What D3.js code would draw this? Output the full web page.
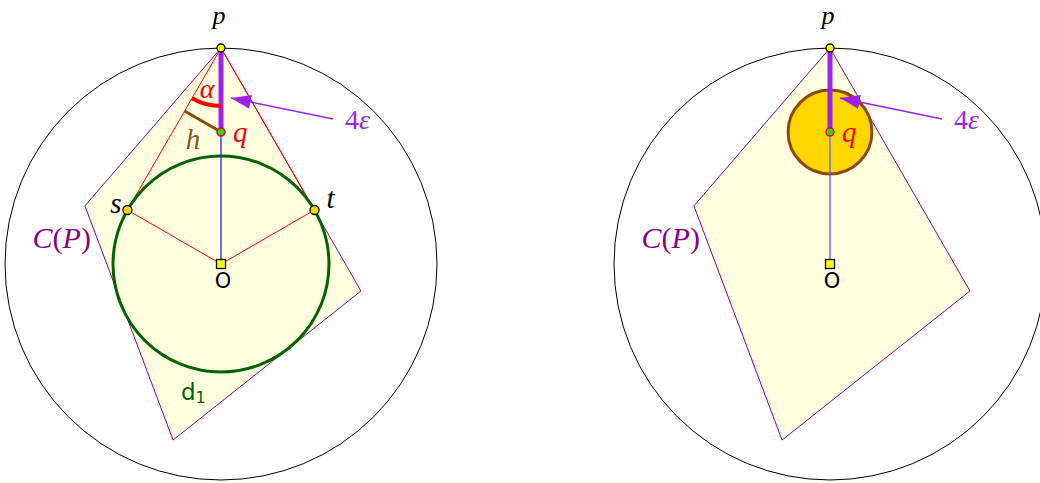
<!DOCTYPE html>
<html>
<head>
<meta charset="utf-8" />
<title>Hull and disks</title>
<style>
  body { margin: 0; background: #fff; }
  .math { font-family: "Liberation Serif", "DejaVu Serif", serif; font-style: italic; }
  .sans { font-family: "DejaVu Sans", sans-serif; }
</style>
</head>
<body>
<script src="https://d3js.org/d3.v7.min.js"></script>
<script>
// unit: radius of the big circle = 1, origin at o, y up
let panelCenters = [221, 830]
let hullX = [0, 0.648, -0.222, -0.630]
let hullY = [1, -0.125, -0.815, 0.269]
let pPoint = [0, 1]
let qPoint = [0, 0.611]
let d1Radius = 0.5
let qDiskRadius = 0.194
let arrowTip = [0.046, 0.769]
let arrowTail = [0.519, 0.671]

let W = 1040, H = 483, R = 216, cy = 264

let svg = d3.select('body').append('svg')
    .attr('width', W).attr('height', H)

let defs = svg.append('defs')
defs.append('marker')
    .attr('id', 'head')
    .attr('viewBox', '0 0 20 14')
    .attr('refX', 20).attr('refY', 7)
    .attr('markerWidth', 20).attr('markerHeight', 14)
    .attr('markerUnits', 'userSpaceOnUse')
    .attr('orient', 'auto')
    .append('path')
    .attr('d', 'M0,0 L20,7 L0,14 Z')
    .attr('fill', '#a020f0')

function drawPanel(cx, left) {
    let x = d3.scaleLinear().domain([-1, 1]).range([cx - R, cx + R])
    let y = d3.scaleLinear().domain([-1, 1]).range([cy + R, cy - R])
    let g = svg.append('g')
    let px = x(pPoint[0]), py = y(pPoint[1])
    let qx = x(qPoint[0]), qy = y(qPoint[1])
    let ox = x(0), oy = y(0)

    // big circle
    g.append('circle')
        .attr('cx', ox).attr('cy', oy).attr('r', x(1) - x(0))
        .attr('fill', 'none').attr('stroke', '#000').attr('stroke-width', 1)

    // convex hull
    let hull = hullX.map((v, i) => [x(v), y(hullY[i])])
    g.append('path')
        .attr('d', d3.line()(hull) + 'Z')
        .attr('fill', '#ffffe0').attr('stroke', '#8b008b').attr('stroke-width', 1)

    let tangents = []
    if (left) {
        // tangent points from p to d1
        let d = pPoint[1]
        let a = Math.acos(d1Radius / d)
        tangents = [-1, 1].map(s => [x(s * d1Radius * Math.sin(a)), y(d1Radius * Math.cos(a))])
        tangents.forEach(t => {
            g.append('line').attr('x1', px).attr('y1', py).attr('x2', t[0]).attr('y2', t[1])
                .attr('stroke', 'red').attr('stroke-width', 1)
            g.append('line').attr('x1', ox).attr('y1', oy).attr('x2', t[0]).attr('y2', t[1])
                .attr('stroke', 'red').attr('stroke-width', 1)
        })
        g.append('circle')
            .attr('cx', ox).attr('cy', oy).attr('r', x(d1Radius) - x(0))
            .attr('fill', 'none').attr('stroke', '#006400').attr('stroke-width', 3)
    } else {
        g.append('circle')
            .attr('cx', qx).attr('cy', qy).attr('r', x(qDiskRadius) - x(0))
            .attr('fill', '#ffd700').attr('stroke', '#8b4a0b').attr('stroke-width', 3)
    }

    // q to o
    g.append('line').attr('x1', qx).attr('y1', qy).attr('x2', ox).attr('y2', oy)
        .attr('stroke', left ? '#2222ff' : '#5a5aff').attr('stroke-width', 1.3)
    // p to q (4 eps)
    g.append('line').attr('x1', px).attr('y1', py).attr('x2', qx).attr('y2', qy)
        .attr('stroke', '#a020f0').attr('stroke-width', 5)

    if (left) {
        let ang = Math.asin(d1Radius / pPoint[1])
        let ar = 58
        g.append('path')
            .attr('transform', `translate(${px},${py})`)
            .attr('d', d3.arc().innerRadius(ar - 2).outerRadius(ar + 2)
                .startAngle(Math.PI).endAngle(Math.PI + ang)())
            .attr('fill', 'red')
        // h: perpendicular from q to p-s
        let s = tangents[0]
        let ux = s[0] - px, uy = s[1] - py
        let len = Math.hypot(ux, uy)
        ux /= len; uy /= len
        let k = (qx - px) * ux + (qy - py) * uy
        g.append('line').attr('x1', qx).attr('y1', qy)
            .attr('x2', px + k * ux).attr('y2', py + k * uy)
            .attr('stroke', '#8b4a0b').attr('stroke-width', 3)
    }

    // arrow
    g.append('line')
        .attr('x1', x(arrowTail[0])).attr('y1', y(arrowTail[1]))
        .attr('x2', x(arrowTip[0])).attr('y2', y(arrowTip[1]))
        .attr('stroke', '#a020f0').attr('stroke-width', 1.5)
        .attr('marker-end', 'url(#head)')

    // points
    g.append('circle').attr('cx', px).attr('cy', py).attr('r', 4)
        .attr('fill', '#ffff00').attr('stroke', '#000').attr('stroke-width', 1.3)
    tangents.forEach(t => {
        g.append('circle').attr('cx', t[0]).attr('cy', t[1]).attr('r', 4.5)
            .attr('fill', '#ffd700').attr('stroke', '#000').attr('stroke-width', 1.3)
    })
    g.append('circle').attr('cx', qx).attr('cy', qy).attr('r', 4)
        .attr('fill', '#22dd22').attr('stroke', 'red').attr('stroke-width', 1.5)
    g.append('rect').attr('x', ox - 4.5).attr('y', oy - 4.5).attr('width', 9).attr('height', 9)
        .attr('fill', '#ffff00').attr('stroke', '#000').attr('stroke-width', 1.3)

    // labels
    g.append('text').attr('class', 'math').attr('x', px - 2).attr('y', py - 24)
        .attr('text-anchor', 'middle').attr('font-size', 26).text('p')
    g.append('text').attr('class', 'math').attr('x', qx + 12).attr('y', qy + 10)
        .attr('font-size', 29).attr('fill', 'red').text('q')
    g.append('text').attr('class', 'sans').attr('x', ox + 2).attr('y', oy + 24)
        .attr('text-anchor', 'middle').attr('font-size', 21).text('O')
    let hx = hullX[3], hy = hullY[3]
    let cp = g.append('text').attr('class', 'math').attr('x', x(hx) + 6).attr('y', y(hy) + 42)
        .attr('text-anchor', 'end').attr('font-size', 30).attr('fill', '#8b008b')
    cp.append('tspan').text('C')
    cp.append('tspan').style('font-style', 'normal').text('(')
    cp.append('tspan').text('P')
    cp.append('tspan').style('font-style', 'normal').text(')')
    let eps = g.append('text').attr('class', 'math').attr('x', x(arrowTail[0]) + 12).attr('y', y(arrowTail[1]) + 10)
        .attr('font-size', 28).attr('fill', '#a020f0')
    eps.append('tspan').style('font-style', 'normal').text('4')
    eps.append('tspan').text('ε')

    if (left) {
        g.append('text').attr('class', 'math').attr('x', px - 14).attr('y', py + 50)
            .attr('text-anchor', 'middle').attr('font-size', 28).attr('fill', 'red').text('α')
        g.append('text').attr('class', 'math').attr('x', px - 28).attr('y', py + 101)
            .attr('text-anchor', 'middle').attr('font-size', 29).attr('fill', '#8b5a1a').text('h')
        g.append('text').attr('class', 'math').attr('x', tangents[0][0] - 6).attr('y', tangents[0][1] + 3)
            .attr('text-anchor', 'end').attr('font-size', 29).text('s')
        g.append('text').attr('class', 'math').attr('x', tangents[1][0] + 12).attr('y', tangents[1][1] - 2)
            .attr('font-size', 29).text('t')
        let d1 = g.append('text').attr('class', 'sans').attr('x', ox - 40).attr('y', oy + 136)
            .attr('font-size', 23).attr('fill', '#006400')
        d1.append('tspan').text('d')
        d1.append('tspan').attr('font-size', 16).attr('dy', 3).text('1')
    }
}

panelCenters.forEach((cx, i) => drawPanel(cx, i === 0))
</script>
</body>
</html>
